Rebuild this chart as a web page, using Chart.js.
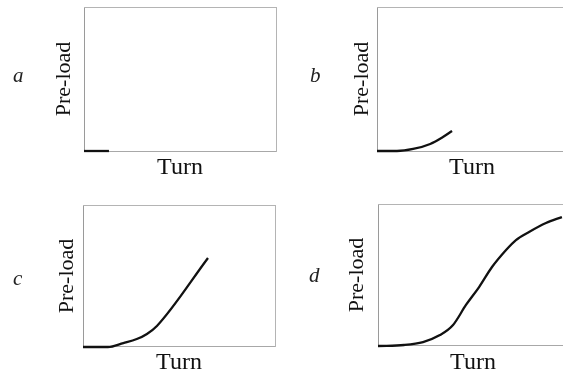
<!DOCTYPE html>
<html>
<head>
<meta charset="utf-8">
<script src="https://cdn.jsdelivr.net/npm/chart.js@4"></script>
<style>
  html, body { margin: 0; padding: 0; background: #fff; width: 563px; height: 379px; overflow: hidden; }
  #wrap { position: relative; width: 563px; height: 379px; overflow: hidden; }
  canvas { position: absolute; }
  .lbl { position: absolute; font-family: "Liberation Serif", "DejaVu Serif", serif; font-style: italic;
         font-size: 21px; line-height: 22px; color: #222; }
</style>
</head>
<body>
<div id="wrap">
  <canvas id="ca" width="285" height="190" style="left:0px;top:0px"></canvas>
  <canvas id="cb" width="295" height="190" style="left:285px;top:0px"></canvas>
  <canvas id="cc" width="285" height="189" style="left:0px;top:190px"></canvas>
  <canvas id="cd" width="295" height="189" style="left:285px;top:190px"></canvas>
  <span class="lbl" style="left:13px;top:64px">a</span>
  <span class="lbl" style="left:310px;top:64px">b</span>
  <span class="lbl" style="left:13px;top:267px">c</span>
  <span class="lbl" style="left:309px;top:264px">d</span>
</div>
<script>
// ---- data (x: turn, y: pre-load, both as fraction of axis range) ----
const xTitle = "Turn";
const yTitle = "Pre-load";

const turnA    = [0, 0.13];
const preloadA = [0, 0];

const turnB    = [0, 0.105, 0.19, 0.28, 0.347, 0.395];
const preloadB = [0, 0, 0.014, 0.049, 0.097, 0.139];

const turnC    = [0, 0.13, 0.21, 0.28, 0.333, 0.385, 0.651];
const preloadC = [0, 0, 0.028, 0.056, 0.092, 0.148, 0.627];

const turnD    = [0, 0.137, 0.237, 0.326, 0.395, 0.463, 0.532, 0.6, 0.674, 0.726, 0.795, 0.884, 0.968];
const preloadD = [0, 0.007, 0.028, 0.077, 0.148, 0.289, 0.415, 0.556, 0.676, 0.746, 0.803, 0.866, 0.908];

// ---- layout (page coordinates) ----
const FAMILY = '"Liberation Serif", "DejaVu Serif", serif';
const YFONT = { family: FAMILY, size: 22 };
const XFONT = { family: FAMILY, size: 24 };
const YLH = YFONT.size * 1.2;
const XLH = XFONT.size * 1.2;

function makePanel(id, turn, preload, canvasBox, box, yTitleX, xTitleMid) {
  const [cl, ct, cw, ch] = canvasBox;
  const padLeft = yTitleX - YLH / 2 - cl;
  const yTitlePadB = box.l - yTitleX - YLH / 2;
  const xTitlePadT = xTitleMid - XLH / 2 - box.b;
  const padBottom = (ct + ch) - xTitleMid - XLH / 2;
  const padTop = box.t - ct;
  const padRight = (cl + cw) - box.r;
  const pts = turn.map((t, i) => ({ x: t, y: preload[i] }));
  const edge = { display: true, color: '#b4b4b4', width: 1 };
  new Chart(document.getElementById(id), {
    type: 'line',
    data: { datasets: [{
      data: pts, borderColor: '#111', borderWidth: 2.3, pointRadius: 0,
      cubicInterpolationMode: 'monotone', fill: false, clip: false
    }]},
    options: {
      responsive: false, animation: false, devicePixelRatio: 1,
      layout: { autoPadding: false, padding: { left: padLeft, right: padRight, top: padTop, bottom: padBottom } },
      plugins: { legend: { display: false }, tooltip: { enabled: false } },
      scales: {
        x: { type: 'linear', min: 0, max: 1, position: 'bottom',
             ticks: { display: false }, grid: { display: false, drawTicks: false },
             border: { display: true, color: '#a8a8a8', width: 1 },
             title: { display: true, text: xTitle, font: XFONT, color: '#111', padding: { top: xTitlePadT, bottom: 0 } } },
        y: { type: 'linear', min: 0, max: 1, position: 'left',
             ticks: { display: false }, grid: { display: false, drawTicks: false },
             border: { display: true, color: '#9a9a9a', width: 1 },
             title: { display: true, text: yTitle, font: YFONT, color: '#111', padding: { top: 0, bottom: yTitlePadB } } },
        x2: { type: 'linear', min: 0, max: 1, position: 'top',
              ticks: { display: false }, grid: { display: false, drawTicks: false }, border: edge },
        y2: { type: 'linear', min: 0, max: 1, position: 'right',
              ticks: { display: false }, grid: { display: false, drawTicks: false }, border: edge }
      }
    }
  });
}

makePanel('ca', turnA, preloadA, [0, 0, 285, 190],   { l: 84,  r: 276, t: 7,   b: 151 }, 64.6,  167.6);
makePanel('cb', turnB, preloadB, [285, 0, 295, 190], { l: 377, r: 567, t: 7,   b: 151 }, 362.6, 167.6);
makePanel('cc', turnC, preloadC, [0, 190, 285, 189], { l: 83,  r: 275, t: 205, b: 347 }, 67.6,  363);
makePanel('cd', turnD, preloadD, [285, 190, 295, 189], { l: 378, r: 568, t: 204, b: 346 }, 357.6, 363);
</script>
</body>
</html>
